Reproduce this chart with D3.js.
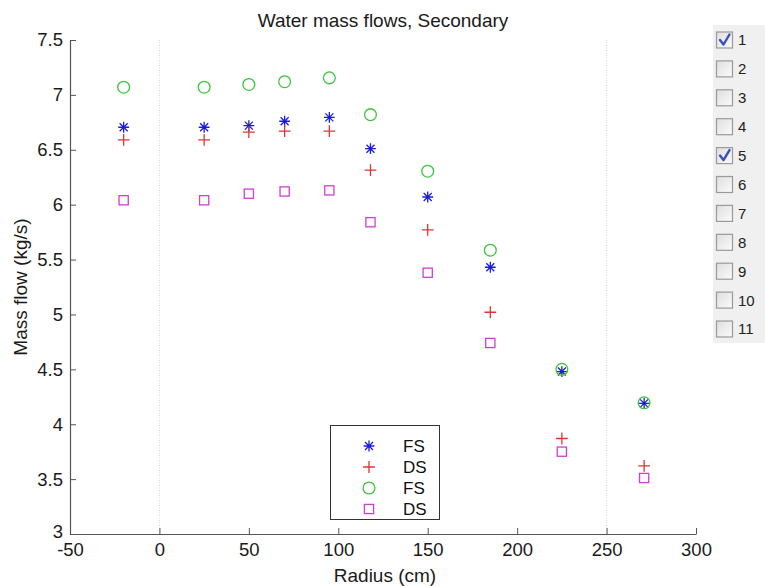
<!DOCTYPE html>
<html>
<head>
<meta charset="utf-8">
<script src="https://cdn.jsdelivr.net/npm/d3@7"></script>
<style>
  html, body { margin: 0; padding: 0; background: #ffffff; }
  svg { display: block; font-family: "Liberation Sans", Arial, Helvetica, sans-serif; }
</style>
</head>
<body>
<svg id="chart" width="765" height="586"></svg>
<script>
// ---- data ----
const radius = [-20, 25, 50, 70, 95, 118, 150, 185, 225, 271];
const fsStar = [6.705, 6.705, 6.72, 6.76, 6.795, 6.51, 6.07, 5.43, 4.48, 4.19];
const dsPlus = [6.59, 6.59, 6.66, 6.67, 6.67, 6.315, 5.77, 5.02, 3.87, 3.62];
const fsCircle = [7.07, 7.07, 7.095, 7.12, 7.155, 6.82, 6.305, 5.585, 4.50, 4.195];
const dsSquare = [6.04, 6.04, 6.10, 6.12, 6.13, 5.84, 5.38, 4.74, 3.75, 3.51];
const legendLabels = ["FS", "DS", "FS", "DS"];
const xTicks = [-50, 0, 50, 100, 150, 200, 250, 300];
const yTicks = [3, 3.5, 4, 4.5, 5, 5.5, 6, 6.5, 7, 7.5];
const refLines = [0, 250];
const checkLabels = ["1","2","3","4","5","6","7","8","9","10","11"];
const checkedState = [true,false,false,false,true,false,false,false,false,false,false];
const titleText = "Water mass flows, Secondary";
const xLabel = "Radius (cm)";
const yLabel = "Mass flow (kg/s)";

// ---- setup ----
const svg = d3.select("#chart");
const x = d3.scaleLinear().domain([-50, 300]).range([70, 696]);
const y = d3.scaleLinear().domain([3, 7.5]).range([534, 40]);

const series = [
  { vals: fsStar, type: "star", color: "#1c1ce0" },
  { vals: dsPlus, type: "plus", color: "#e23434" },
  { vals: fsCircle, type: "circle", color: "#3ec43e" },
  { vals: dsSquare, type: "square", color: "#d23ed2" }
];

function drawMarker(g, type, color) {
  const s = 5.4;
  if (type === "star") {
    const d = 4;
    g.append("path")
      .attr("d", `M${-s},0H${s}M0,${-s}V${s}M${-d},${-d}L${d},${d}M${-d},${d}L${d},${-d}`)
      .attr("stroke", color).attr("stroke-width", 1.3).attr("fill", "none");
  } else if (type === "plus") {
    g.append("path")
      .attr("d", `M${-s - 0.5},0H${s + 0.5}M0,${-s - 0.5}V${s + 0.5}`)
      .attr("stroke", color).attr("stroke-width", 1.3).attr("fill", "none");
  } else if (type === "circle") {
    g.append("circle").attr("r", 5.9)
      .attr("stroke", color).attr("stroke-width", 1.3).attr("fill", "none");
  } else if (type === "square") {
    g.append("rect").attr("x", -4.6).attr("y", -4.6).attr("width", 9.2).attr("height", 9.2)
      .attr("stroke", color).attr("stroke-width", 1.3).attr("fill", "none");
  }
}

// ---- reference dotted lines ----
svg.append("g").selectAll("line").data(refLines).join("line")
  .attr("x1", d => x(d)).attr("x2", d => x(d))
  .attr("y1", y(7.5)).attr("y2", y(3))
  .attr("stroke", "#d4d4d4").attr("stroke-width", 1).attr("stroke-dasharray", "1,1.5");

// ---- axes ----
const axisColor = "#555";
const gx = svg.append("g").attr("transform", `translate(0,${y(3)})`)
  .call(d3.axisBottom(x).tickValues(xTicks).tickFormat(d => String(d))
    .tickSizeInner(-6).tickSizeOuter(0).tickPadding(9));
const gy = svg.append("g").attr("transform", `translate(${x(-50)},0)`)
  .call(d3.axisLeft(y).tickValues(yTicks).tickFormat(d => String(d))
    .tickSizeInner(-6).tickSizeOuter(0).tickPadding(7));
[gx, gy].forEach(g => {
  g.select(".domain").attr("stroke", axisColor).attr("stroke-width", 1.2);
  g.selectAll(".tick line").attr("stroke", axisColor).attr("stroke-width", 1);
  g.selectAll(".tick text").attr("fill", "#1a1a1a")
    .style("font-size", "18.5px").style("font-family", "'Liberation Sans', Arial, sans-serif");
});
// the lowest y label sits just above the corner, as in the reference
gy.selectAll(".tick text").filter(d => d === 3).attr("dy", "0.2em");

// ---- data markers ----
series.forEach(sr => {
  const g = svg.append("g");
  sr.vals.forEach((v, i) => {
    const m = g.append("g").attr("transform", `translate(${x(radius[i])},${y(v)})`);
    drawMarker(m, sr.type, sr.color);
  });
});

// ---- title and labels ----
svg.append("text").attr("x", 383).attr("y", 26.5).attr("text-anchor", "middle")
  .attr("fill", "#1a1a1a").style("font-size", "19px").text(titleText);
svg.append("text").attr("x", 385).attr("y", 581.5).attr("text-anchor", "middle")
  .attr("fill", "#1a1a1a").style("font-size", "19px").text(xLabel);
svg.append("text").attr("transform", `translate(27,${(y(3) + y(7.5)) / 2}) rotate(-90)`)
  .attr("text-anchor", "middle").attr("fill", "#1a1a1a")
  .style("font-size", "19px").text(yLabel);

// ---- legend box ----
const lg = svg.append("g");
lg.append("rect").attr("x", 330.5).attr("y", 425.5).attr("width", 109).attr("height", 94)
  .attr("fill", "#ffffff").attr("stroke", "#333").attr("stroke-width", 1);
series.forEach((sr, i) => {
  const yy = 446 + i * 21;
  const m = lg.append("g").attr("transform", `translate(369,${yy})`);
  drawMarker(m, sr.type, sr.color);
  lg.append("text").attr("x", 403).attr("y", yy).attr("dy", "0.36em")
    .attr("fill", "#111").style("font-size", "17px").text(legendLabels[i]);
});

// ---- checkbox panel ----
const defs = svg.append("defs");
const grad = defs.append("linearGradient").attr("id", "cbg")
  .attr("x1", 0).attr("y1", 0).attr("x2", 1).attr("y2", 1);
grad.append("stop").attr("offset", "0%").attr("stop-color", "#dedede");
grad.append("stop").attr("offset", "100%").attr("stop-color", "#fbfbfb");

const cp = svg.append("g");
cp.append("rect").attr("x", 713).attr("y", 25).attr("width", 52).attr("height", 318)
  .attr("fill", "#f0f0f0");
checkLabels.forEach((lab, i) => {
  const cy = 40 + i * 28.9;
  cp.append("rect").attr("x", 716.5).attr("y", cy - 8).attr("width", 16).attr("height", 16)
    .attr("fill", "url(#cbg)").attr("stroke", "#9a9a9a").attr("stroke-width", 1.2);
  if (checkedState[i]) {
    cp.append("path")
      .attr("d", `M${720},${cy} L${723.5},${cy + 4.5} L${729.5},${cy - 5.5}`)
      .attr("stroke", "#3a50b8").attr("stroke-width", 2.4).attr("fill", "none")
      .attr("stroke-linecap", "round").attr("stroke-linejoin", "round");
  }
  cp.append("text").attr("x", 738).attr("y", cy).attr("dy", "0.36em")
    .attr("fill", "#222").style("font-size", "15px").text(lab);
});
</script>
</body>
</html>
